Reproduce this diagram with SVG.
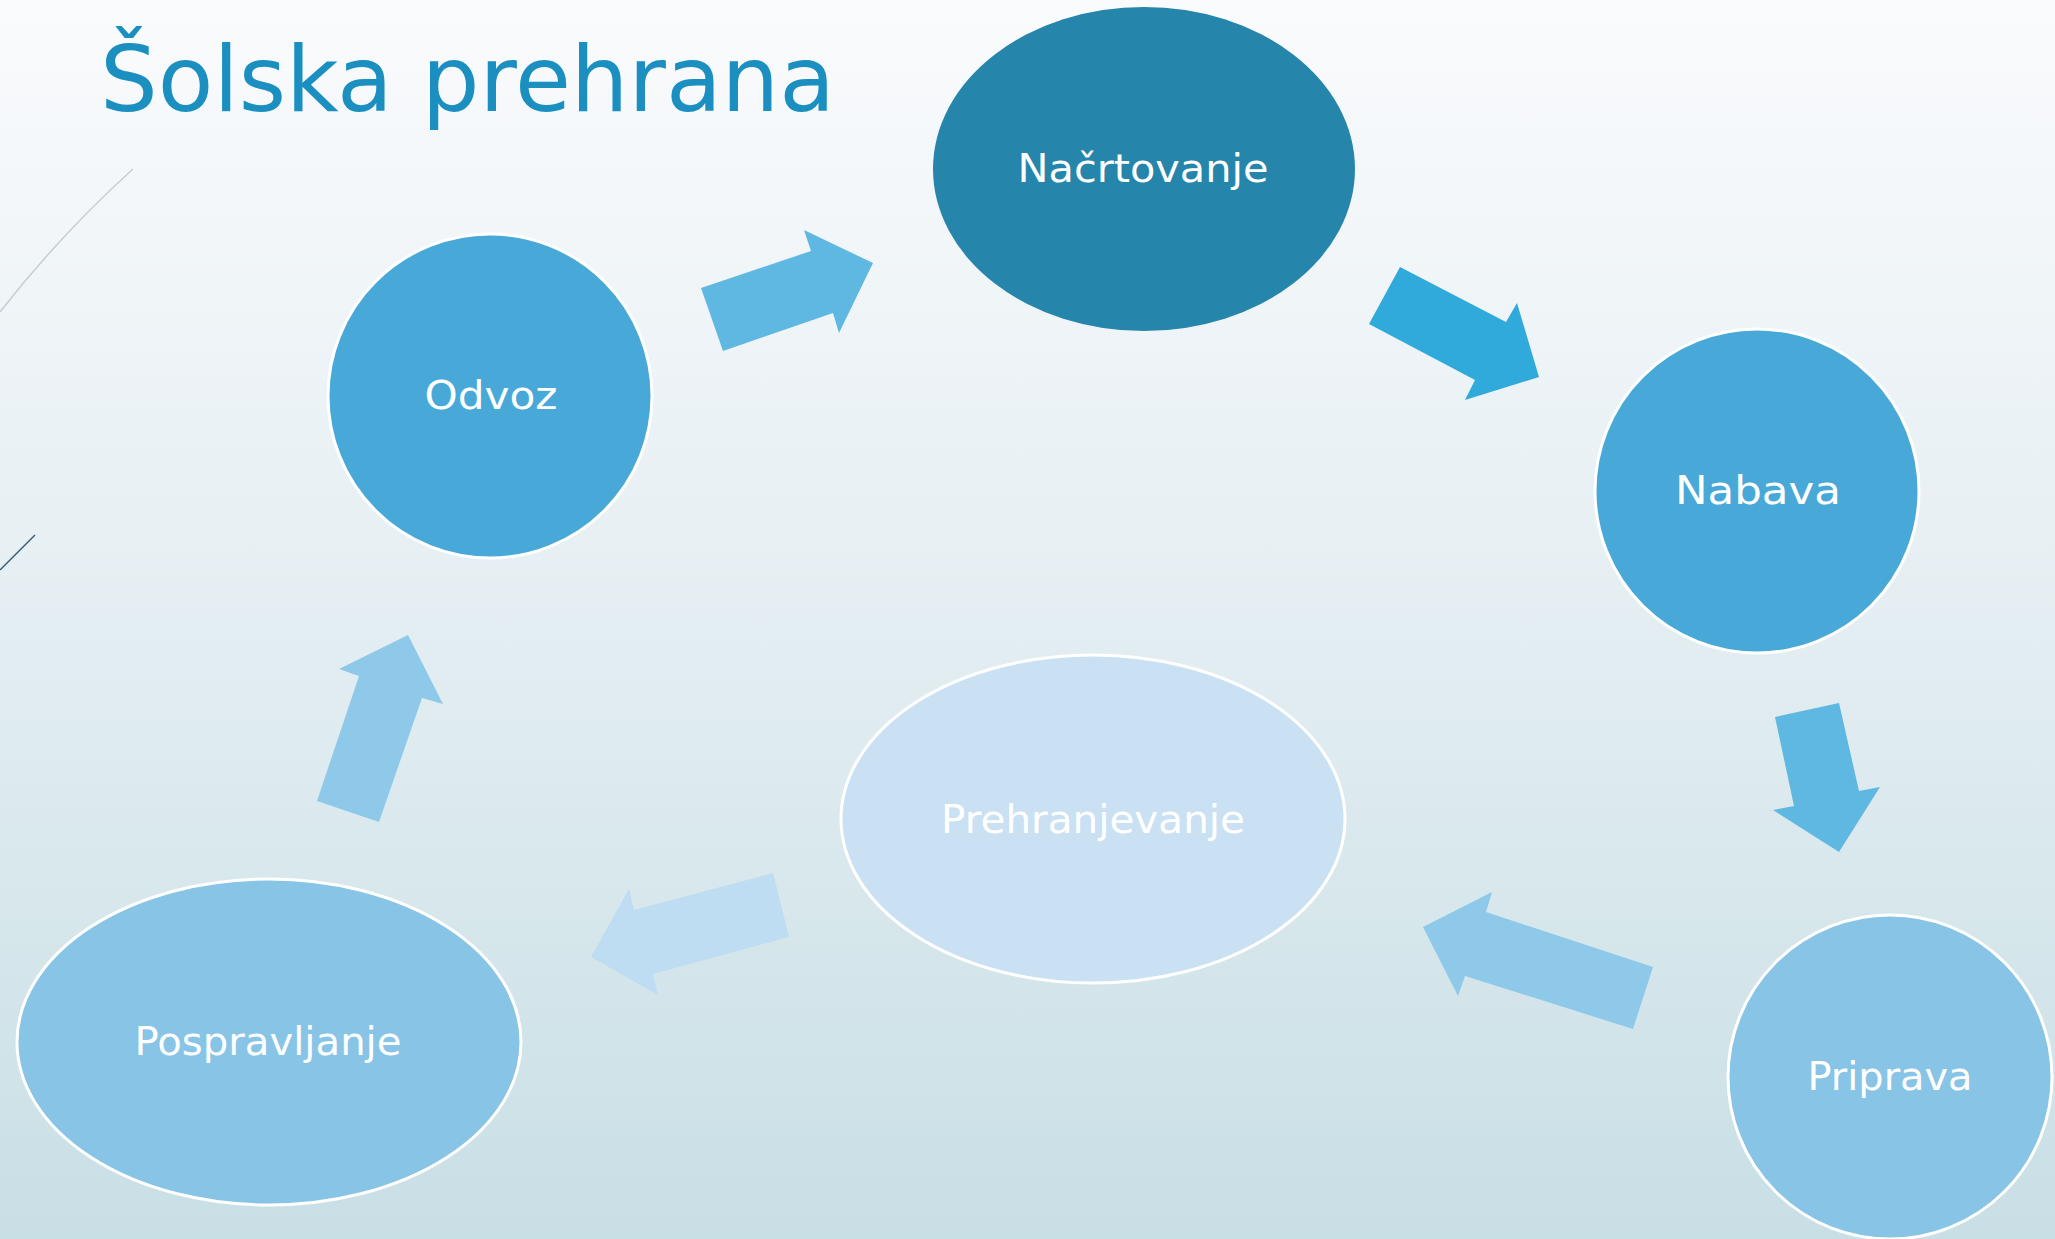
<svg xmlns="http://www.w3.org/2000/svg" width="2055" height="1239" viewBox="0 0 2055 1239">
<defs>
<linearGradient id="bg" x1="0" y1="0" x2="0" y2="1">
<stop offset="0" stop-color="#FAFBFD"/>
<stop offset="0.5" stop-color="#E4EEF2"/>
<stop offset="1" stop-color="#C8DFE5"/>
</linearGradient>
<style>
.lbl{font-family:"DejaVu Sans","Liberation Sans",sans-serif;font-size:39px;fill:#FFFFFF;text-anchor:middle}
.bd{stroke:#FFFFFF;stroke-width:3}
</style>
</defs>
<rect x="0" y="0" width="2055" height="1239" fill="url(#bg)"/>
<path d="M133,169 Q60,235 0,312" fill="none" stroke="#C3CFD6" stroke-width="1.5"/>
<path d="M35,535 L0,570" fill="none" stroke="#3A5A70" stroke-width="1.5"/>
<text x="100" y="111" font-family="'DejaVu Sans','Liberation Sans',sans-serif" font-size="90" fill="#1A8FC0" textLength="735" lengthAdjust="spacingAndGlyphs">Šolska prehrana</text>
<g id="connectors">
<polygon points="701,288 811,251 804,230 873,263 839,333 833,313 723,351" fill="#5FB8E2"/>
<polygon points="1400,267 1506,322 1517,303 1539,377 1465,400 1475,380 1369,324" fill="#2FAADB"/>
<polygon points="1775,717 1839,703 1859,791 1880,787 1839,852 1773,810 1794,806" fill="#5FB8E2"/>
<polygon points="1653,967 1633,1029 1465,976 1458,996 1423,927 1492,892 1486,912" fill="#8EC9EA"/>
<polygon points="773,873 789,937 653,974 658,995 591,957 629,889 634,910" fill="#BEDDF2"/>
<polygon points="317,801 379,822 422,698 443,704 408,635 339,669 359,676" fill="#8EC9EA"/>
</g>
<g id="node-nacrtovanje">
<ellipse cx="1144" cy="169" rx="211" ry="162" fill="#2585AB"/>
<text class="lbl" x="1143" y="182" textLength="251" lengthAdjust="spacingAndGlyphs">Načrtovanje</text>
</g>
<g id="node-nabava">
<circle class="bd" cx="1757" cy="491" r="162" fill="#48A9D8"/>
<text class="lbl" x="1758" y="504" textLength="166" lengthAdjust="spacingAndGlyphs">Nabava</text>
</g>
<g id="node-priprava">
<circle class="bd" cx="1890" cy="1077" r="162" fill="#88C4E6"/>
<text class="lbl" x="1890" y="1090" textLength="165" lengthAdjust="spacingAndGlyphs">Priprava</text>
</g>
<g id="node-prehranjevanje">
<ellipse class="bd" cx="1093" cy="819" rx="252" ry="164" fill="#CAE1F4"/>
<text class="lbl" x="1093" y="833" textLength="304" lengthAdjust="spacingAndGlyphs">Prehranjevanje</text>
</g>
<g id="node-pospravljanje">
<ellipse class="bd" cx="269" cy="1042" rx="252" ry="163" fill="#88C4E6"/>
<text class="lbl" x="268" y="1055" textLength="267" lengthAdjust="spacingAndGlyphs">Pospravljanje</text>
</g>
<g id="node-odvoz">
<circle class="bd" cx="490" cy="396" r="162" fill="#48A9D8"/>
<text class="lbl" x="491" y="409" textLength="133" lengthAdjust="spacingAndGlyphs">Odvoz</text>
</g>
</svg>
